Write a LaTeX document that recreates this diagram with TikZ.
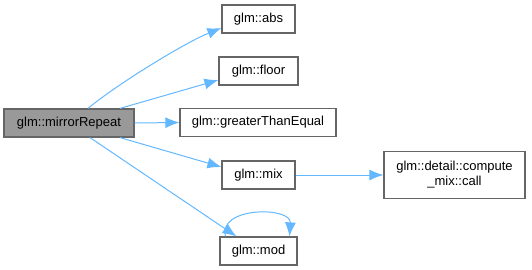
\documentclass[tikz,border=0pt]{standalone}
\usepackage{fontspec}
\setmainfont{Liberation Sans}
\usepackage{xcolor}
\definecolor{edgeblue}{HTML}{63B8FF}
\definecolor{boxline}{HTML}{666666}
\definecolor{boxgray}{HTML}{999999}
\usetikzlibrary{arrows.meta}

\begin{document}
\begin{tikzpicture}[
        x=1pt, y=-1pt,
        func/.style={draw=boxline, line width=1.2pt, rectangle, fill=white, minimum height=28pt, inner sep=0pt, align=center, font=\fontsize{13}{15}\selectfont},
        call/.style={-{Latex[length=14pt, width=11pt]}, draw=edgeblue, line width=1pt}
    ]
        \useasboundingbox (0,0) rectangle (532,270);

        % Caller
        \node[func, fill=boxgray, minimum width=130pt] (mirror) at (69,123) {glm::mirrorRepeat};

        % Callees
        \node[func, minimum width=73pt] (abs) at (258.5,19) {glm::abs};
        \node[func, minimum width=79pt] (floor) at (258.5,71) {glm::floor};
        \node[func, minimum width=156pt] (gte) at (258,122.5) {glm::greaterThanEqual};
        \node[func, minimum width=73pt] (mix) at (258.5,175) {glm::mix};
        \node[func, minimum width=77pt] (mod) at (258.5,251) {glm::mod};
        \node[func, minimum width=141pt, minimum height=47pt] (compute) at (454.5,175) {glm::detail::compute\\\_mix::call};

        % Calls
        \draw[call] ([xshift=19pt]mirror.north) .. controls +(30,-25) and +(-35,14) .. ([yshift=-9pt]abs.west);
        \draw[call] ([xshift=51pt]mirror.north) -- ([yshift=-9pt]floor.west);
        \draw[call] (mirror.east) -- (gte.west);
        \draw[call] ([xshift=51pt]mirror.south) -- ([yshift=8pt]mix.west);
        \draw[call] ([xshift=21pt]mirror.south) -- ([xshift=-22pt]mod.north);
        \draw[call] (mix.east) -- (compute.west);

        % Recursion
        \draw[call] ([xshift=-33pt]mod.north) .. controls +(-8,-30) and +(2,-30) .. ([xshift=31pt]mod.north);
    \end{tikzpicture}
\end{document}
